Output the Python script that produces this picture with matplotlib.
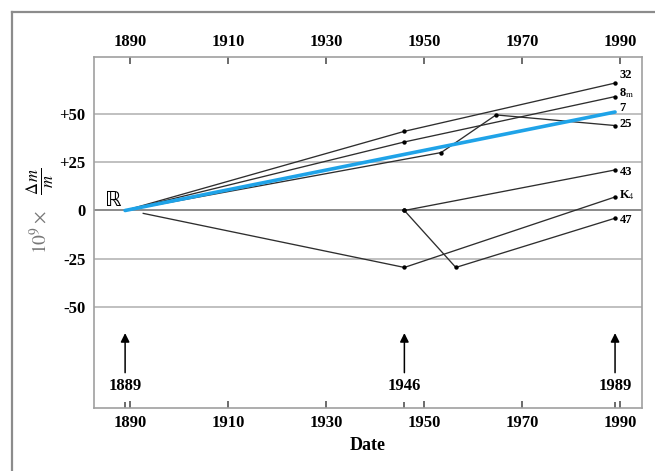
import matplotlib
matplotlib.use("Agg")
import matplotlib.pyplot as plt
from matplotlib.lines import Line2D

plt.rcParams['font.family'] = ['Liberation Serif', 'DejaVu Serif']
plt.rcParams['mathtext.fontset'] = 'stix'

# prototype mass drift vs. the international prototype (R), 10^-9 units
x32 = [1889, 1946, 1989]
y32 = [0, 41, 66]
x8m = [1889, 1946, 1989]
y8m = [0, 35.5, 59]
x25 = [1889, 1953.5, 1964.7, 1989]
y25 = [0, 30, 49.5, 44]
x7 = [1889, 1989]
y7 = [0, 51]
x43 = [1946, 1989]
y43 = [0, 21]
xK4 = [1892.7, 1946, 1989]
yK4 = [-1.5, -29.5, 7]
x47 = [1946, 1956.5, 1989]
y47 = [0, -29.5, -4]

end_labels = ['32', r'8$_{\mathrm{m}}$', '7', '25', '43', r'K$_{4}$', '47']
end_label_y = [70, 61, 53, 45, 20, 8, -5]

verif_years = [1889, 1946, 1989]
tick_years = [1890, 1910, 1930, 1950, 1970, 1990]
grid_levels = [50, 25, 0, -25, -50]
grid_labels = ['+50', '+25', '0', '-25', '-50']

fig = plt.figure(figsize=(6.55, 4.71), dpi=100)
ax = fig.add_axes([94 / 655, 1 - 408 / 471, (642 - 94) / 655, (408 - 57) / 471])
ax.set_xlim(1882.65, 1994.5)
ax.set_ylim(-102.3, 79.5)

# horizontal reference lines
for lv in grid_levels:
    ax.axhline(lv, color='#8a8a8a' if lv == 0 else '#b5b5b5', lw=1.4 if lv == 0 else 1.2, zorder=1)

line_kw = dict(color='#2e2e2e', lw=0.95, zorder=2)
mk_kw = dict(color='black', s=10, zorder=4, linewidths=0)
for xs, ys, skip in [(x32, y32, 1), (x8m, y8m, 1), (x25, y25, 1),
                     (x43, y43, 0), (xK4, yK4, 1), (x47, y47, 0)]:
    ax.plot(xs, ys, **line_kw)
    ax.scatter(xs[skip:], ys[skip:], **mk_kw)

ax.plot(x7, y7, color='#1fa3e8', lw=2.6, zorder=3, solid_capstyle='round')

for lab, ly in zip(end_labels, end_label_y):
    ax.text(1989.9, ly, lab, fontsize=9, fontweight='bold', ha='left', va='center')

ax.text(1888.3, 0.5, 'ℝ', fontsize=15, family=['DejaVu Sans'],
        ha='right', va='bottom', color='black')

# verification campaigns
for yr in verif_years:
    ax.annotate('', xy=(yr, -63.5), xytext=(yr, -84),
                arrowprops=dict(arrowstyle='-|>', color='black', lw=1.1,
                                mutation_scale=13, shrinkA=0, shrinkB=0))
    ax.text(yr, -91, str(yr), fontsize=12, fontweight='bold', ha='center', va='center')

ax.set_xticks(tick_years)
ax.set_xticks(verif_years, minor=True)
ax.set_xticklabels([str(t) for t in tick_years], fontsize=12, fontweight='bold')
ax.tick_params(axis='x', which='both', direction='in', length=5, width=1.1,
               color='#444444', top=True, labeltop=True, pad=5)
ax.tick_params(axis='x', which='minor', top=False, length=4)
ax.set_yticks(grid_levels)
ax.set_yticklabels(grid_labels, fontsize=12, fontweight='bold')
ax.tick_params(axis='y', length=0, pad=6)

ax.set_xlabel('Date', fontsize=13, fontweight='bold', labelpad=4)

for sp in ax.spines.values():
    sp.set_color('#a0a0a0')
    sp.set_linewidth(1.2)

# y label: 10^9 x (dm / m)
fig.text(40 / 655, 1 - 232 / 471, r'$10^{9}\times$', rotation=90, fontsize=14,
         color='#777777', ha='center', va='center')
fig.text(40 / 655, 1 - 181 / 471, r'$\frac{\Delta\, m}{m}$', rotation=90, fontsize=17,
         color='black', ha='center', va='center')

# outer frame (left and top edges)
fig.add_artist(Line2D([12 / 655, 12 / 655], [0, 1 - 12 / 471], transform=fig.transFigure,
                      color='#8c8c8c', lw=1.6))
fig.add_artist(Line2D([12 / 655, 1], [1 - 12 / 471, 1 - 12 / 471], transform=fig.transFigure,
                      color='#8c8c8c', lw=1.6))

fig.savefig('out.png', dpi=100)
